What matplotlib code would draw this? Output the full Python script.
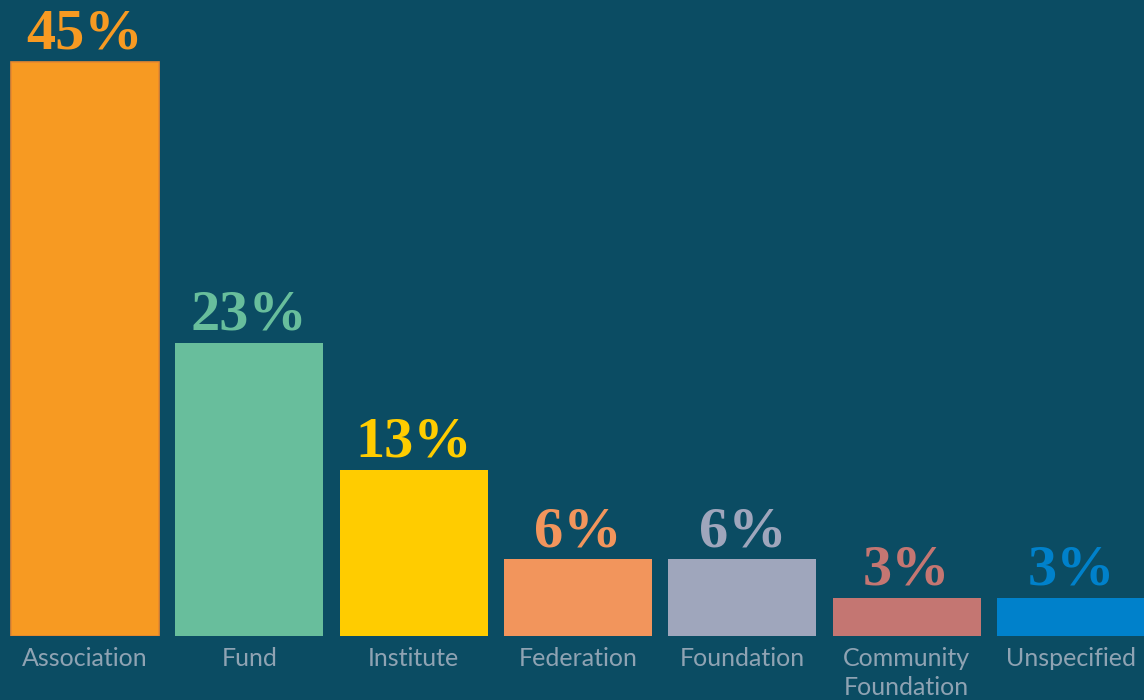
import numpy as np
import matplotlib.pyplot as plt

# 组织类型分布
categories = ['Association', 'Fund', 'Institute', 'Federation', 'Foundation',
              'Community\nFoundation', 'Unspecified']
shares = [45, 23, 13, 6, 6, 3, 3]
colors = ['#F79A22', '#68BE9C', '#FFCC00', '#F2955C', '#9FA6BC', '#C47672', '#0081CB']

bg = '#0B4C63'
label_color = '#8FA3B3'

fig = plt.figure(figsize=(11.44, 7), dpi=100, facecolor=bg)
ax = fig.add_axes([0, 64 / 700, 1, 636 / 700], facecolor=bg)

x = np.arange(len(categories))
bars = ax.bar(x, shares, width=0.9, color=colors)
bars[0].set_edgecolor('#E8882F')
bars[0].set_linewidth(1.2)

# 柱顶的百分比
for xi, v, c in zip(x, shares, colors):
    ax.annotate(f'{v}%', (xi, v), xytext=(0, 1), textcoords='offset points',
                ha='center', va='bottom', color=c, fontsize=42,
                fontweight='bold', family=['Liberation Serif', 'DejaVu Serif'])

ax.set_xlim(-0.517, 6.444)
ax.set_ylim(0, 49.86)
ax.set_xticks(x)
ax.set_xticklabels(categories, color=label_color, fontsize=18,
                   family=['Lato', 'DejaVu Sans'], linespacing=1.3)
ax.tick_params(axis='x', length=0, pad=8)
ax.set_yticks([])
for s in ax.spines.values():
    s.set_visible(False)

fig.savefig('out.png', dpi=100, facecolor=bg)
